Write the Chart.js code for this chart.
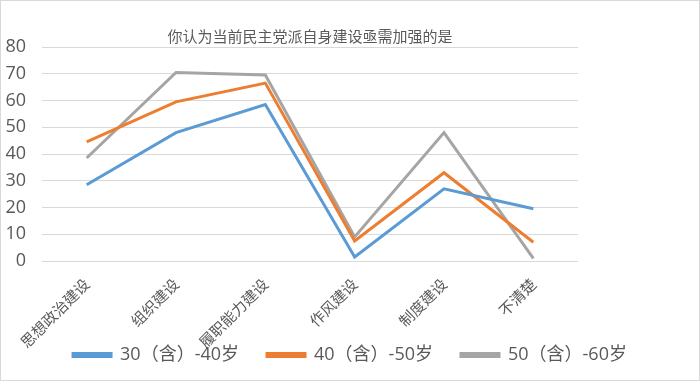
<!DOCTYPE html>
<html><head><meta charset="utf-8">
<script src="https://cdn.jsdelivr.net/npm/chart.js@4.4.0/dist/chart.umd.min.js"></script>
<style>
html,body{margin:0;padding:0;background:#fff;}
#wrap{width:700px;height:381px;position:relative;box-sizing:border-box;border:1px solid #d9d9d9;}
</style></head>
<body><div id="wrap"><canvas id="c" width="698" height="379"></canvas></div>
<script>
const title = "你认为当前民主党派自身建设亟需加强的是";
const categories = ["思想政治建设","组织建设","履职能力建设","作风建设","制度建设","不清楚"];
const seriesNames = ["30（含）-40岁","40（含）-50岁","50（含）-60岁"];
const age30_40 = [28.5, 48, 58.5, 1.5, 27, 19.5];
const age40_50 = [44.5, 59.5, 66.5, 7.5, 33, 7];
const age50_60 = [38.5, 70.5, 69.5, 9, 48, 1];
const colors = ["#5B9BD5","#ED7D31","#A5A5A5"];
const yTicks = [0,10,20,30,40,50,60,70,80];

const ctx = document.getElementById('c');
const mk = (i, data) => ({label: seriesNames[i], data, borderColor: colors[i], backgroundColor: colors[i], borderWidth: 3, pointRadius: 0, tension: 0, fill: false});
new Chart(ctx, {
  type: 'line',
  data: { labels: categories, datasets: [mk(0, age30_40), mk(1, age40_50), mk(2, age50_60)] },
  options: {
    responsive: false, animation: false,
    layout: { padding: { left: 0, right: 0, top: 0, bottom: 6 } },
    plugins: {
      title: { display: true, text: title, fullSize: false, color: '#595959',
        font: { family: '"Noto Sans CJK SC"', size: 15, weight: 'normal' }, padding: { top: 26, bottom: 2 } },
      legend: { position: 'bottom', labels: { color: '#595959', boxWidth: 38, boxHeight: 3, padding: 28,
        font: { family: '"Open Sans","Noto Sans CJK SC"', size: 18 } } },
      tooltip: { enabled: false }
    },
    scales: {
      x: {
        offset: true,
        grid: { display: false },
        border: { display: false },
        ticks: { color: '#595959', minRotation: 45, maxRotation: 45, padding: 6,
          font: { family: '"Noto Sans CJK SC"', size: 15 } },
        afterFit: s => { s.height = 57; s._computeLabelArea = () => undefined; }
      },
      y: {
        min: 0, max: 80,
        afterBuildTicks: s => { s.ticks = yTicks.map(v => ({value: v})); },
        grid: { color: '#d9d9d9', drawTicks: false },
        border: { display: false },
        ticks: { color: '#595959', padding: 16, font: { family: '"Open Sans"', size: 18 } },
        afterFit: s => { s.width = 41; }
      },
      yr: {
        position: 'right', display: true,
        grid: { display: false }, border: { display: false },
        ticks: { display: false },
        afterFit: s => { s.width = 121; }
      }
    }
  }
});
</script></body></html>
